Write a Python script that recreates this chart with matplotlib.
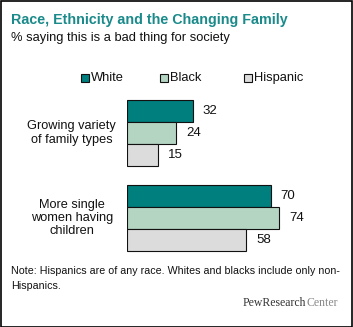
import matplotlib
matplotlib.use("Agg")
import matplotlib.pyplot as plt
from matplotlib.patches import Rectangle

categories = ["Growing variety\nof family types", "More single\nwomen having\nchildren"]
series = ["White", "Black", "Hispanic"]
values = {
    "White": [32, 70],
    "Black": [24, 74],
    "Hispanic": [15, 58],
}
colors = {"White": "#007F7F", "Black": "#B5D5C3", "Hispanic": "#DCDCDC"}

W, H = 353, 327
fig = plt.figure(figsize=(W / 100, H / 100), dpi=100)
fig.patch.set_facecolor("white")

FONT = "Liberation Sans"

def fx(px):
    return px / W

def fy(py):
    return 1 - py / H

# axes: x 0..100 spans px 127..332 ; y groups spaced 85px, center g0 at 133
ax_left, ax_right = 127, 332
ax_top, ax_bot = 90.5, 260.5
ax = fig.add_axes([fx(ax_left), fy(ax_bot), fx(ax_right - ax_left), (ax_bot - ax_top) / H])
ax.set_xlim(0, 100)
ax.set_ylim(1.5, -0.5)
ax.axis("off")

h = 22 / 85
for i, s in enumerate(series):
    offs = (i - 1) * h
    ys = [g + offs for g in range(len(categories))]
    ax.barh(ys, values[s], height=h, color=colors[s], edgecolor="#111111", linewidth=0.8, left=0)
    for y, v in zip(ys, values[s]):
        ax.text(v + 5, y, str(v), va="center", ha="left", fontsize=9.5, family=FONT, color="#111111")

for g, c in enumerate(categories):
    ax.text(-27, g, c, ha="center", va="center", fontsize=9.2, family=FONT, color="#111111",
            transform=ax.transData, linespacing=1.15)

# title / subtitle
fig.text(fx(11), fy(20), "Race, Ethnicity and the Changing Family", fontsize=10.3, fontweight="bold",
         color="#1A8A8A", family=FONT, va="center", ha="left")
fig.text(fx(11), fy(38), "% saying this is a bad thing for society", fontsize=9.3,
         color="#111111", family=FONT, va="center", ha="left")

# legend
leg_x = [81, 160, 244]
for x, s in zip(leg_x, series):
    fig.patches.append(Rectangle((fx(x), fy(82)), fx(8), 8 / H, transform=fig.transFigure,
                                 facecolor=colors[s], edgecolor="#111111", linewidth=0.8))
    fig.text(fx(x + 10), fy(78), s, fontsize=9.3, family=FONT, va="center", ha="left", color="#111111")

# note
fig.text(fx(11), fy(271), "Note: Hispanics are of any race. Whites and blacks include only non-",
         fontsize=7.7, family=FONT, va="center", ha="left", color="#111111")
fig.text(fx(11), fy(286), "Hispanics.", fontsize=7.7, family=FONT, va="center", ha="left", color="#111111")

# logo
t1 = fig.text(fx(243), fy(303), "PewResearch", fontsize=8.5, family="Liberation Serif",
              va="center", ha="left", color="#333333")
fig.canvas.draw()
bb = t1.get_window_extent()
fig.text(bb.x1 / W, fy(303), "Center", fontsize=8.5, family="Liberation Serif",
         va="center", ha="left", color="#888888")

# border
fig.patches.append(Rectangle((0.5 / W, 0.5 / H), 1 - 1.5 / W, 1 - 1.5 / H, transform=fig.transFigure,
                             fill=False, edgecolor="black", linewidth=1.2))

fig.savefig("out.png", dpi=100)
